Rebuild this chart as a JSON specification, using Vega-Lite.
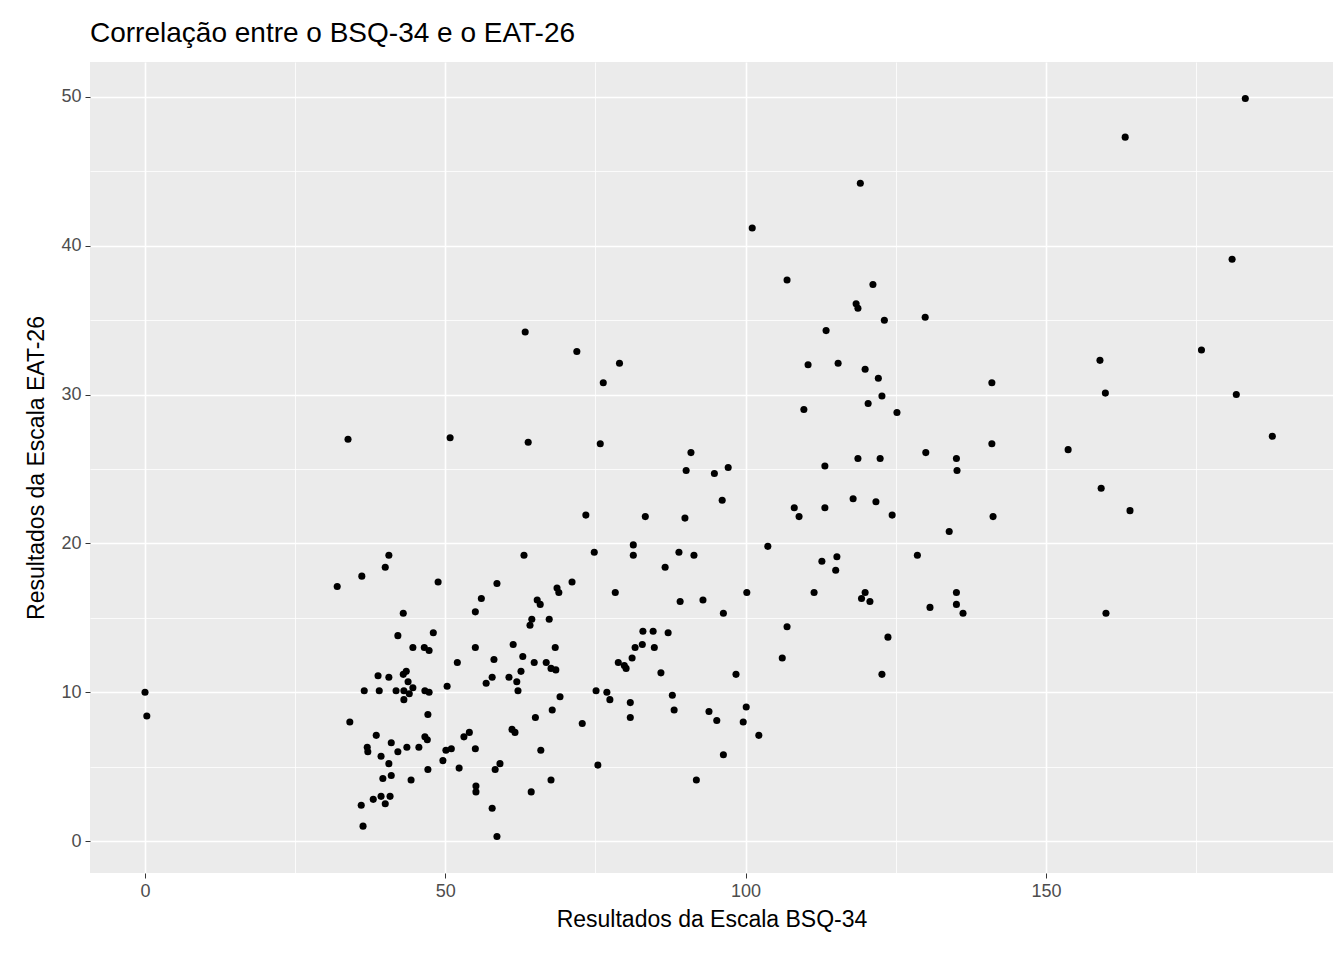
{
  "$schema": "https://vega.github.io/schema/vega-lite/v6.json",
  "autosize": "none",
  "width": 1243,
  "height": 811,
  "padding": {"left": 90, "top": 62, "right": 11, "bottom": 87},
  "background": "white",
  "title": {"text": "Correlação entre o BSQ-34 e o EAT-26", "anchor": "start", "frame": "group", "fontSize": 28, "fontWeight": "normal", "font": "Liberation Sans", "color": "black", "offset": 14},
  "config": {"view": {"fill": "#EBEBEB", "stroke": null}},
  "data": {"values": [
    {"bsq":0,"eat":10},{"bsq":0.3,"eat":8.4},{"bsq":32,"eat":17.1},{"bsq":33.8,"eat":27},{"bsq":34.1,"eat":8},{"bsq":36.1,"eat":17.8},{"bsq":36,"eat":2.4},{"bsq":36.3,"eat":1},{"bsq":36.5,"eat":10.1},{"bsq":37,"eat":6.3},{"bsq":37.1,"eat":6},{"bsq":38,"eat":2.8},{"bsq":38.5,"eat":7.1},{"bsq":38.8,"eat":11.1},{"bsq":39,"eat":10.1},{"bsq":39.3,"eat":3},{"bsq":39.3,"eat":5.7},{"bsq":39.6,"eat":4.2},{"bsq":40,"eat":18.4},{"bsq":40,"eat":2.5},{"bsq":40.6,"eat":19.2},{"bsq":40.6,"eat":11},{"bsq":40.6,"eat":5.2},{"bsq":40.8,"eat":3},{"bsq":41,"eat":6.6},{"bsq":41,"eat":4.4},{"bsq":41.8,"eat":10.1},{"bsq":42.1,"eat":13.8},{"bsq":42.1,"eat":6},{"bsq":43,"eat":15.3},{"bsq":43,"eat":11.2},{"bsq":43.1,"eat":9.5},{"bsq":43.1,"eat":10.1},{"bsq":43.5,"eat":11.4},{"bsq":43.6,"eat":6.3},{"bsq":43.8,"eat":10.7},{"bsq":44,"eat":9.9},{"bsq":44.3,"eat":4.1},{"bsq":44.6,"eat":10.3},{"bsq":44.6,"eat":13},{"bsq":45.6,"eat":6.3},{"bsq":46.5,"eat":13},{"bsq":46.6,"eat":7},{"bsq":46.6,"eat":10.1},{"bsq":47,"eat":6.8},{"bsq":47.1,"eat":8.5},{"bsq":47.1,"eat":4.8},{"bsq":47.3,"eat":10},{"bsq":47.3,"eat":12.8},{"bsq":48,"eat":14},{"bsq":48.8,"eat":17.4},{"bsq":49.6,"eat":5.4},{"bsq":50.1,"eat":6.1},{"bsq":50.3,"eat":10.4},{"bsq":50.8,"eat":27.1},{"bsq":51,"eat":6.2},{"bsq":52,"eat":12},{"bsq":52.3,"eat":4.9},{"bsq":53.1,"eat":7},{"bsq":54,"eat":7.3},{"bsq":55,"eat":15.4},{"bsq":55,"eat":13},{"bsq":55,"eat":6.2},{"bsq":55.1,"eat":3.7},{"bsq":55.1,"eat":3.3},{"bsq":56,"eat":16.3},{"bsq":56.8,"eat":10.6},{"bsq":57.8,"eat":11},{"bsq":58.1,"eat":12.2},{"bsq":57.8,"eat":2.2},{"bsq":58.3,"eat":4.8},{"bsq":58.6,"eat":17.3},{"bsq":58.6,"eat":0.3},{"bsq":59.1,"eat":5.2},{"bsq":60.6,"eat":11},{"bsq":61.1,"eat":7.5},{"bsq":61.3,"eat":13.2},{"bsq":61.6,"eat":7.3},{"bsq":61.9,"eat":10.7},{"bsq":62.1,"eat":10.1},{"bsq":62.6,"eat":11.4},{"bsq":62.9,"eat":12.4},{"bsq":63.3,"eat":34.2},{"bsq":63.1,"eat":19.2},{"bsq":63.8,"eat":26.8},{"bsq":64.1,"eat":14.5},{"bsq":64.3,"eat":3.3},{"bsq":64.4,"eat":14.9},{"bsq":64.8,"eat":12},{"bsq":65,"eat":8.3},{"bsq":65.3,"eat":16.2},{"bsq":65.8,"eat":15.9},{"bsq":65.9,"eat":6.1},{"bsq":66.8,"eat":12},{"bsq":67.3,"eat":14.9},{"bsq":67.6,"eat":11.6},{"bsq":67.6,"eat":4.1},{"bsq":67.8,"eat":8.8},{"bsq":68.3,"eat":13},{"bsq":68.4,"eat":11.5},{"bsq":68.6,"eat":17},{"bsq":68.9,"eat":16.7},{"bsq":69.1,"eat":9.7},{"bsq":71.1,"eat":17.4},{"bsq":71.9,"eat":32.9},{"bsq":72.8,"eat":7.9},{"bsq":73.4,"eat":21.9},{"bsq":74.8,"eat":19.4},{"bsq":75.1,"eat":10.1},{"bsq":75.4,"eat":5.1},{"bsq":75.8,"eat":26.7},{"bsq":76.3,"eat":30.8},{"bsq":76.9,"eat":10},{"bsq":77.4,"eat":9.5},{"bsq":78.3,"eat":16.7},{"bsq":78.8,"eat":12},{"bsq":79,"eat":32.1},{"bsq":79.8,"eat":11.8},{"bsq":80.1,"eat":11.6},{"bsq":80.8,"eat":9.3},{"bsq":80.8,"eat":8.3},{"bsq":81.1,"eat":12.3},{"bsq":81.3,"eat":19.9},{"bsq":81.3,"eat":19.2},{"bsq":81.6,"eat":13},{"bsq":82.8,"eat":13.2},{"bsq":82.9,"eat":14.1},{"bsq":83.3,"eat":21.8},{"bsq":84.6,"eat":14.1},{"bsq":84.8,"eat":13},{"bsq":85.9,"eat":11.3},{"bsq":86.6,"eat":18.4},{"bsq":87.1,"eat":14},{"bsq":87.8,"eat":9.8},{"bsq":88.1,"eat":8.8},{"bsq":88.9,"eat":19.4},{"bsq":89.1,"eat":16.1},{"bsq":89.9,"eat":21.7},{"bsq":90.1,"eat":24.9},{"bsq":90.9,"eat":26.1},{"bsq":91.4,"eat":19.2},{"bsq":91.8,"eat":4.1},{"bsq":92.9,"eat":16.2},{"bsq":93.9,"eat":8.7},{"bsq":94.8,"eat":24.7},{"bsq":95.2,"eat":8.1},{"bsq":96.1,"eat":22.9},{"bsq":96.3,"eat":15.3},{"bsq":96.3,"eat":5.8},{"bsq":97.1,"eat":25.1},{"bsq":98.4,"eat":11.2},{"bsq":99.6,"eat":8},{"bsq":100.1,"eat":9},{"bsq":100.2,"eat":16.7},{"bsq":101.1,"eat":41.2},{"bsq":102.2,"eat":7.1},{"bsq":103.7,"eat":19.8},{"bsq":106.1,"eat":12.3},{"bsq":106.9,"eat":14.4},{"bsq":106.9,"eat":37.7},{"bsq":108.1,"eat":22.4},{"bsq":108.9,"eat":21.8},{"bsq":109.7,"eat":29},{"bsq":110.4,"eat":32},{"bsq":111.4,"eat":16.7},{"bsq":112.7,"eat":18.8},{"bsq":113.2,"eat":22.4},{"bsq":113.2,"eat":25.2},{"bsq":113.4,"eat":34.3},{"bsq":115,"eat":18.2},{"bsq":115.2,"eat":19.1},{"bsq":115.4,"eat":32.1},{"bsq":117.9,"eat":23},{"bsq":118.4,"eat":36.1},{"bsq":118.7,"eat":35.8},{"bsq":118.7,"eat":25.7},{"bsq":119.1,"eat":44.2},{"bsq":119.3,"eat":16.3},{"bsq":119.9,"eat":16.7},{"bsq":119.9,"eat":31.7},{"bsq":120.4,"eat":29.4},{"bsq":120.7,"eat":16.1},{"bsq":121.2,"eat":37.4},{"bsq":121.7,"eat":22.8},{"bsq":122.1,"eat":31.1},{"bsq":122.4,"eat":25.7},{"bsq":122.7,"eat":11.2},{"bsq":122.7,"eat":29.9},{"bsq":123.1,"eat":35},{"bsq":123.7,"eat":13.7},{"bsq":124.4,"eat":21.9},{"bsq":125.2,"eat":28.8},{"bsq":128.6,"eat":19.2},{"bsq":129.9,"eat":35.2},{"bsq":130,"eat":26.1},{"bsq":130.7,"eat":15.7},{"bsq":133.9,"eat":20.8},{"bsq":135.1,"eat":16.7},{"bsq":135.1,"eat":15.9},{"bsq":135.1,"eat":25.7},{"bsq":135.2,"eat":24.9},{"bsq":136.2,"eat":15.3},{"bsq":141,"eat":30.8},{"bsq":141,"eat":26.7},{"bsq":141.2,"eat":21.8},{"bsq":153.7,"eat":26.3},{"bsq":159,"eat":32.3},{"bsq":159.2,"eat":23.7},{"bsq":159.9,"eat":30.1},{"bsq":160,"eat":15.3},{"bsq":163.2,"eat":47.3},{"bsq":164,"eat":22.2},{"bsq":175.9,"eat":33},{"bsq":181,"eat":39.1},{"bsq":181.7,"eat":30},{"bsq":183.2,"eat":49.9},{"bsq":187.7,"eat":27.2}
  ]},
  "mark": {"type": "circle", "size": 50, "color": "black", "opacity": 1},
  "encoding": {
    "x": {"field": "bsq", "type": "quantitative", "title": "Resultados da Escala BSQ-34",
      "scale": {"domain": [-9.16, 197.8], "nice": false, "zero": false},
      "axis": {"values": [0,25,50,75,100,125,150,175], "labelExpr": "datum.value % 50 === 0 ? datum.label : ''",
        "gridColor": "white", "gridWidth": {"condition": {"test": "datum.value % 50 === 0", "value": 1.6}, "value": 0.8},
        "tickColor": {"condition": {"test": "datum.value % 50 === 0", "value": "#333333"}, "value": "transparent"},
        "tickSize": 5, "domain": false, "labelFontSize": 18, "labelColor": "#4D4D4D", "labelFont": "Liberation Sans", "labelPadding": 4,
        "titleFontSize": 23, "titleFont": "Liberation Sans", "titleFontWeight": "normal", "titleColor": "black", "titlePadding": 8}},
    "y": {"field": "eat", "type": "quantitative", "title": "Resultados da Escala EAT-26",
      "scale": {"domain": [-2.15, 52.35], "nice": false, "zero": false},
      "axis": {"values": [0,5,10,15,20,25,30,35,40,45,50], "labelExpr": "datum.value % 10 === 0 ? datum.label : ''",
        "gridColor": "white", "gridWidth": {"condition": {"test": "datum.value % 10 === 0", "value": 1.6}, "value": 0.8},
        "tickColor": {"condition": {"test": "datum.value % 10 === 0", "value": "#333333"}, "value": "transparent"},
        "tickSize": 5, "domain": false, "labelFontSize": 18, "labelColor": "#4D4D4D", "labelFont": "Liberation Sans", "labelPadding": 4,
        "titleFontSize": 23, "titleFont": "Liberation Sans", "titleFontWeight": "normal", "titleColor": "black", "titlePadding": 12}}
  }
}
